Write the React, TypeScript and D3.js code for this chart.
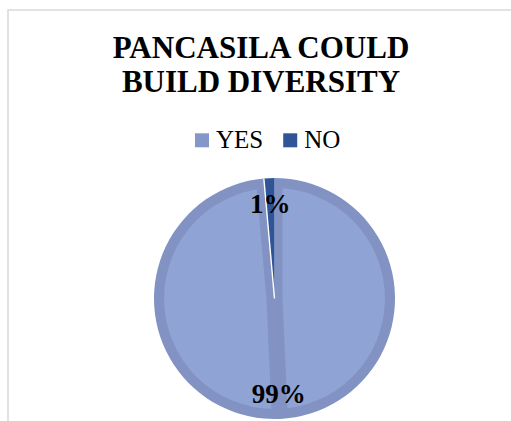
import React from "react";
import * as d3 from "d3";

const categories = ["YES", "NO"];
const values = [70, 1];
const titleLines = ["PANCASILA COULD", "BUILD DIVERSITY"];

const W = 511;
const H = 421;
const cx = 274.5;
const cy = 298.5;
const R = 120.5;
const rim = 10;
const inset = 8;

const FONT = "'Liberation Serif', 'Times New Roman', Times, serif";
const bandColor = "#8192c3";
const lightColor = "#8fa3d5";
const noColor = "#2f5597";
const legendColors = ["#8497c8", "#2f5597"];

function measure(text: string, font: string): number {
  const c = document.createElement("canvas");
  const ctx = c.getContext("2d");
  if (!ctx) return text.length * 12;
  ctx.font = font;
  return ctx.measureText(text).width;
}

export default function App() {
  const total = d3.sum(values);
  const pie = d3
    .pie<number>()
    .sort(null)
    .startAngle(0)
    .endAngle(2 * Math.PI);
  const arcs = pie(values);
  const yes = arcs[0];
  const no = arcs[1];

  const arcGen = d3.arc<any>();
  const fullArc = (a0: number, a1: number, r: number) =>
    arcGen({ innerRadius: 0, outerRadius: r, startAngle: a0, endAngle: a1 }) as string;

  // split YES slice along the line through the NO slice bisector (opposite side)
  const noMid = (no.startAngle + no.endAngle) / 2;
  const split = noMid - Math.PI;
  const pieces = [
    [yes.startAngle, split],
    [split, yes.endAngle],
  ].map(([a0, a1]) => {
    const theta = a1 - a0;
    const bis = (a0 + a1) / 2;
    const d = inset / Math.sin(theta / 2);
    const ax = d * Math.sin(bis);
    const ay = -d * Math.cos(bis);
    return { a0, a1, ax, ay };
  });

  const labelArc = d3.arc<any>().innerRadius(95).outerRadius(95);
  const pct = (v: number) => `${Math.round((v / total) * 100)}%`;

  const legendFont = "25px 'Liberation Serif'";
  let lx = 195;
  const legendItems = categories.map((c, i) => {
    const x = lx;
    const tw = measure(c, legendFont);
    lx += 14 + 7 + tw + 20;
    return { c, x, color: legendColors[i] };
  });

  const edgeX = R * Math.sin(no.startAngle);
  const edgeY = -R * Math.cos(no.startAngle);

  return (
    <svg
      width={W}
      height={H}
      style={{ position: "absolute", left: 0, top: 0, background: "#fff" }}
    >
      <rect x={8} y={10} width={520} height={440} fill="#fff" stroke="#d9d9d9" strokeWidth={1.5} />
      {titleLines.map((t, i) => (
        <text
          key={t}
          x={261}
          y={58 + i * 33.7}
          textAnchor="middle"
          fontFamily={FONT}
          fontSize={31}
          fontWeight="bold"
          fill="#000"
        >
          {t}
        </text>
      ))}
      {legendItems.map((it) => (
        <g key={it.c}>
          <rect x={it.x} y={133.3} width={14} height={14} fill={it.color} />
          <text x={it.x + 21} y={147.5} fontFamily={FONT} fontSize={25} fill="#000">
            {it.c}
          </text>
        </g>
      ))}
      <defs>
        <clipPath id="innerDisc">
          <circle cx={0} cy={0} r={R - rim} />
        </clipPath>
      </defs>
      <g transform={`translate(${cx},${cy})`}>
        <path d={fullArc(yes.startAngle, yes.endAngle, R)} fill={bandColor} />
        <g clipPath="url(#innerDisc)">
          {pieces.map((p, i) => (
            <path
              key={i}
              transform={`translate(${p.ax},${p.ay})`}
              d={fullArc(p.a0, p.a1, R * 2)}
              fill={lightColor}
            />
          ))}
        </g>
        <path d={fullArc(no.startAngle, no.endAngle, R)} fill={noColor} />
        <line x1={0} y1={0} x2={edgeX} y2={edgeY} stroke="#ffffff" strokeWidth={1.4} />
        {arcs.map((a, i) => {
          const [x, y] = labelArc.centroid(a);
          return (
            <text
              key={categories[i]}
              x={x}
              y={y + 9.5}
              textAnchor="middle"
              fontFamily={FONT}
              fontSize={27}
              fontWeight="bold"
              fill="#000"
            >
              {pct(values[i])}
            </text>
          );
        })}
      </g>
    </svg>
  );
}
